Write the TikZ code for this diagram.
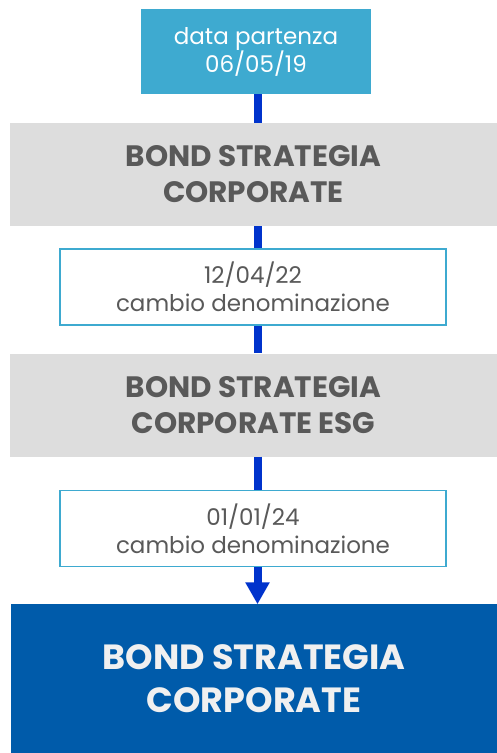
\documentclass[tikz,border=0pt]{standalone}
\usepackage{fontspec}
\setmainfont{Poppins}
\usetikzlibrary{arrows.meta}
\definecolor{datacyan}{HTML}{3EAAD0}
\definecolor{namegray}{HTML}{DDDDDD}
\definecolor{textgray}{HTML}{595959}
\definecolor{finalblue}{HTML}{005BAA}
\definecolor{flowblue}{HTML}{0033CC}

\begin{document}
\begin{tikzpicture}
  [x=1pt, y=-1pt,
   every node/.style={align=center, inner sep=0pt},
   startbox/.style={fill=datacyan, text=white, minimum width=230pt, minimum height=85pt, font=\fontsize{23}{28}\selectfont},
   namebox/.style={fill=namegray, text=textgray, minimum width=487pt, minimum height=103pt, font=\fontsize{29.5}{36}\selectfont\bfseries},
   changebox/.style={draw=datacyan, line width=1.6pt, fill=white, text=textgray, minimum width=386pt, minimum height=76pt, font=\fontsize{23}{28}\selectfont},
   finalbox/.style={fill=finalblue, text=white!94!black, minimum width=486pt, minimum height=149pt, font=\fontsize{35}{43}\selectfont\bfseries},
   flow/.style={draw=flowblue, line width=8pt}]
  \useasboundingbox (0,0) rectangle (497,753);
  \coordinate (axis) at (257.5,0);
  \node[startbox]  (start)  at (256,51.5)  {data partenza\\06/05/19};
  \node[namebox]   (name1)  at (253.5,174.5) {BOND STRATEGIA\\CORPORATE};
  \node[changebox] (change1) at (253,287) {12/04/22\\cambio denominazione};
  \node[namebox]   (name2)  at (253.5,405) {BOND STRATEGIA\\CORPORATE ESG};
  \node[changebox] (change2) at (253,528.5) {01/01/24\\cambio denominazione};
  \node[finalbox]  (final)  at (254,678.5) {BOND STRATEGIA\\CORPORATE};
  % connectors
  \draw[flow] (start.south -| axis) -- (name1.north -| axis);
  \draw[flow] (name1.south -| axis) -- (change1.north -| axis);
  \draw[flow] (change1.south -| axis) -- (name2.north -| axis);
  \draw[flow] (name2.south -| axis) -- (change2.north -| axis);
  \draw[flow, -{Triangle[width=23pt, length=22pt]}, shorten >=-0.5pt] (change2.south -| axis) -- (final.north -| axis);
\end{tikzpicture}
\end{document}
